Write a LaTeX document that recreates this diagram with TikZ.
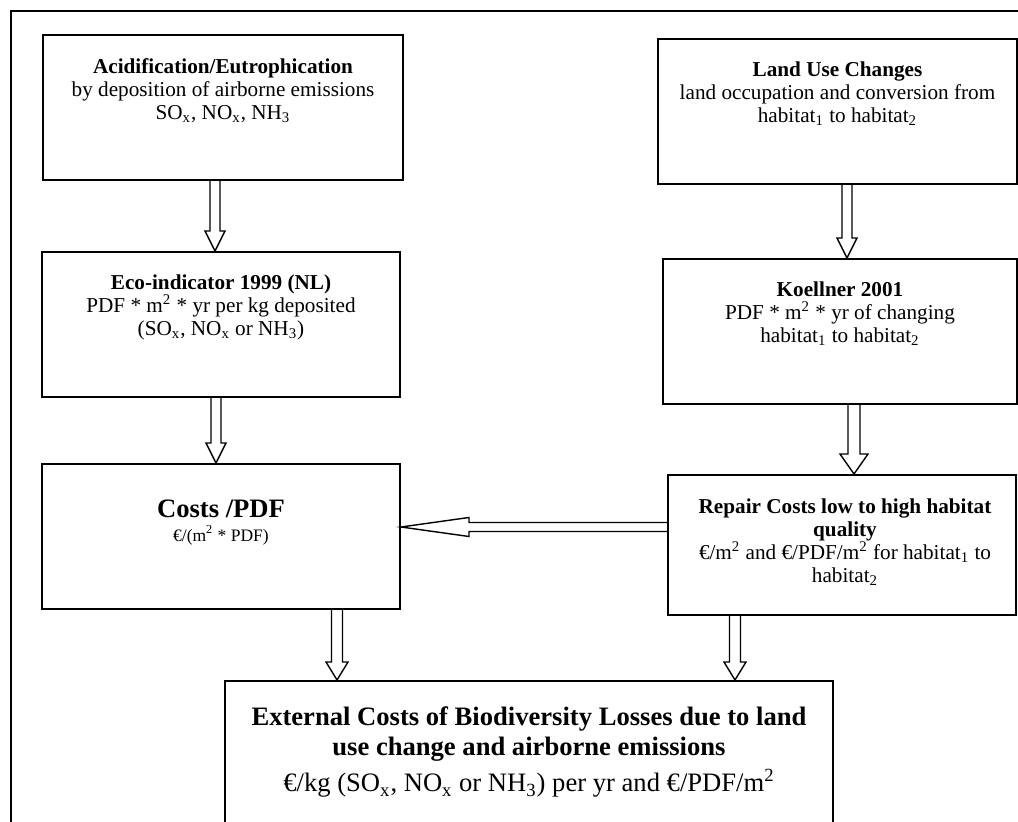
\documentclass[tikz,border=0pt]{standalone}
\usepackage{fontspec}
\setmainfont{Liberation Serif}
\usetikzlibrary{calc}

\tikzset{
  box/.style={draw, line width=1pt, inner sep=0pt},
  txt/.style={align=center, inner sep=0pt, anchor=north, font=\fontsize{10.6}{11.5}\selectfont},
  bigtxt/.style={align=center, inner sep=0pt, anchor=north, font=\fontsize{13.3}{15}\selectfont},
  fat/.style={draw, line width=0.7pt, line join=miter},
}

% hollow block arrows: from, to, shift, shaft half width, head half width, head length
\newcommand{\fatdown}[6]{%
  \draw[fat] let \p1=([xshift=#3]#1), \p2=(#2) in
    (\x1-#4,\y1) -- (\x1-#4,\y2+#6) -- (\x1-#5,\y2+#6) -- (\x1,\y2)
    -- (\x1+#5,\y2+#6) -- (\x1+#4,\y2+#6) -- (\x1+#4,\y1);
}
\newcommand{\fatleft}[6]{%
  \draw[fat] let \p1=([yshift=#3]#1), \p2=(#2) in
    (\x1,\y1+#4) -- (\x2+#6,\y1+#4) -- (\x2+#6,\y1+#5) -- (\x2,\y1)
    -- (\x2+#6,\y1-#5) -- (\x2+#6,\y1-#4) -- (\x1,\y1-#4);
}

\begin{document}
\begin{tikzpicture}[x=0.5pt, y=-0.5pt]
  \useasboundingbox (0,0) rectangle (1018,822);
  \draw [line width=1pt] (11,842) |- (1030,11);

  % boxes
  \node [box, minimum width=180pt, minimum height=72.5pt] (acid) at (223,107.5) {};
  \node [box, minimum width=179.5pt, minimum height=72.5pt] (land) at (837.5,111.5) {};
  \node [box, minimum width=179pt, minimum height=72.5pt] (eco) at (221,324.5) {};
  \node [box, minimum width=177pt, minimum height=72.5pt] (koel) at (840,331.5) {};
  \node [box, minimum width=179pt, minimum height=72.5pt] (cost) at (221,536.5) {};
  \node [box, minimum width=174pt, minimum height=70pt] (rep) at (842,545) {};
  \node [box, minimum width=304pt, minimum height=80pt] (ext) at (529,761) {};

  % texts
  \node [txt] (acidtxt) at ([yshift=-12pt]acid.north) {\textbf{Acidification/Eutrophication}\\by deposition of airborne emissions\\SO\textsubscript{x}, NO\textsubscript{x}, NH\textsubscript{3}};
  \node [txt] (landtxt) at ([yshift=-11.5pt]land.north) {\textbf{Land Use Changes}\\land occupation and conversion from\\habitat\textsubscript{1} to habitat\textsubscript{2}};
  \node [txt] (ecotxt) at ([yshift=-11.5pt]eco.north) {\textbf{Eco-indicator 1999 (NL)}\\PDF * m\textsuperscript{2} * yr per kg deposited\\(SO\textsubscript{x}, NO\textsubscript{x} or NH\textsubscript{3})};
  \node [txt] (koeltxt) at ([yshift=-11.5pt]koel.north) {\textbf{Koellner 2001}\\PDF * m\textsuperscript{2} * yr of changing\\habitat\textsubscript{1} to habitat\textsubscript{2}};
  \node [bigtxt] (costtxt) at ([yshift=-18.3pt]cost.north) {\textbf{Costs /PDF}\\[-3pt]{\fontsize{8.75}{10}\selectfont €/(m\textsuperscript{2} * PDF)}};
  \node [txt] (reptxt) at ([xshift=1.5pt,yshift=-12pt]rep.north) {\textbf{Repair Costs low to high habitat}\\\textbf{quality}\\€/m\textsuperscript{2} and €/PDF/m\textsuperscript{2} for habitat\textsubscript{1} to\\habitat\textsubscript{2}};
  \node [bigtxt] (exttxt) at ([yshift=-13.3pt]ext.north) {\textbf{External Costs of Biodiversity Losses due to land}\\\textbf{use change and airborne emissions}\\[3pt]€/kg (SO\textsubscript{x}, NO\textsubscript{x} or NH\textsubscript{3}) per yr and €/PDF/m\textsuperscript{2}};

  % arrows
  \fatdown{acid.south}{eco.north}{-4pt}{2.5pt}{5pt}{10pt}
  \fatdown{land.south}{koel.north}{4.75pt}{2.5pt}{5pt}{10pt}
  \fatdown{eco.south}{cost.north}{-2.5pt}{2.5pt}{5pt}{10pt}
  \fatdown{koel.south}{rep.north}{7pt}{3pt}{7pt}{10pt}
  \fatdown{cost.south}{ext.north}{58pt}{2.75pt}{5.5pt}{9pt}
  \fatdown{rep.south}{ext.north}{-53.5pt}{2.75pt}{5.5pt}{9pt}
  \fatleft{rep.west}{cost.east}{9pt}{2.25pt}{4.75pt}{34pt}
\end{tikzpicture}
\end{document}
